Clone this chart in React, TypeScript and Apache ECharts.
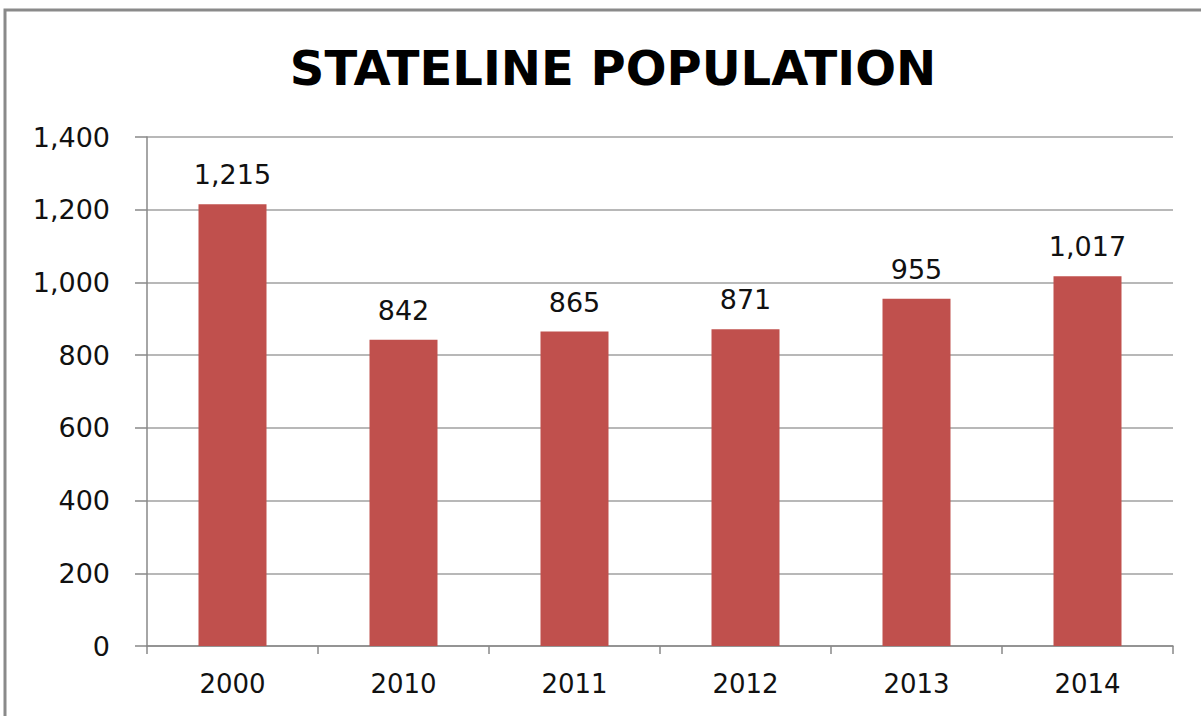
import React, { useEffect, useRef } from "react";
import * as echarts from "echarts";

const categories = ["2000", "2010", "2011", "2012", "2013", "2014"];
const population = [1215, 842, 865, 871, 955, 1017];
const titleText = "STATELINE POPULATION";

export default function App() {
  const ref = useRef<HTMLDivElement>(null);
  useEffect(() => {
    if (!ref.current) return;
    const chart = echarts.init(ref.current, null, { renderer: "svg" });
    const font = "'DejaVu Sans', sans-serif";
    chart.setOption({
      animation: false,
      backgroundColor: "#ffffff",
      title: {
        text: titleText,
        left: 608,
        textAlign: "center",
        top: 39,
        textStyle: {
          fontFamily: "'DejaVu Sans', sans-serif",
          fontWeight: "bold",
          fontSize: 48,
          color: "#000",
        },
      },
      graphic: [
        {
          type: "rect",
          shape: { x: 5, y: 10, width: 1400, height: 900 },
          style: { fill: "none", stroke: "#8a8a8a", lineWidth: 3 },
          silent: true,
        },
      ],
      grid: { left: 147, right: 28, top: 137, bottom: 70, containLabel: false },
      xAxis: {
        type: "category",
        data: categories,
        axisLine: { show: true, lineStyle: { color: "#888", width: 1.5 } },
        axisTick: { show: true, length: 8, alignWithLabel: false, lineStyle: { color: "#888", width: 1.5 } },
        axisLabel: { fontFamily: font, fontSize: 26, color: "#111", margin: 25 },
      },
      yAxis: {
        type: "value",
        min: 0,
        max: 1400,
        interval: 200,
        axisLine: { show: true, lineStyle: { color: "#888", width: 1.5 } },
        axisTick: { show: true, length: 12, lineStyle: { color: "#888", width: 1.5 } },
        splitLine: { show: true, lineStyle: { color: "#a0a0a0", width: 1.5 } },
        axisLabel: {
          fontFamily: font,
          fontSize: 27,
          color: "#111",
          margin: 37,
          formatter: (v: number) => v.toLocaleString("en-US"),
        },
      },
      series: [
        {
          type: "bar",
          data: population,
          barWidth: 68,
          itemStyle: { color: "#C0504D" },
          label: {
            show: true,
            position: "top",
            distance: 16,
            fontFamily: font,
            fontSize: 27,
            color: "#111",
            formatter: (p: any) => Number(p.value).toLocaleString("en-US"),
          },
        },
      ],
    });
    return () => chart.dispose();
  }, []);
  return (
    <div
      ref={ref}
      style={{ position: "absolute", left: 0, top: 0, width: 1201, height: 716 }}
    />
  );
}
